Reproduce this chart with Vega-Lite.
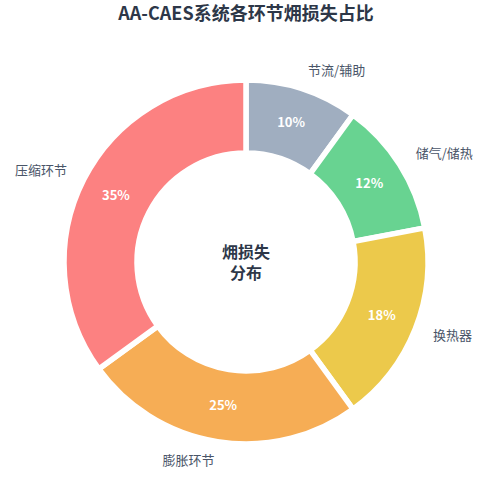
{
  "$schema": "https://vega.github.io/schema/vega-lite/v6.json",
  "width": 490,
  "height": 494,
  "autosize": {"type": "fit", "contains": "padding"},
  "padding": {"top": 6, "left": 2, "right": 0, "bottom": 0},
  "background": "white",
  "title": {
    "text": "AA-CAES系统各环节㶲损失占比",
    "font": "Noto Sans CJK SC",
    "fontSize": 18,
    "fontWeight": "bold",
    "color": "#2D3748",
    "offset": 6
  },
  "data": {
    "values": [
      {"name": "节流/辅助", "value": 10, "label": "10%", "ord": 1},
      {"name": "储气/储热", "value": 12, "label": "12%", "ord": 2},
      {"name": "换热器", "value": 18, "label": "18%", "ord": 3},
      {"name": "膨胀环节", "value": 25, "label": "25%", "ord": 4},
      {"name": "压缩环节", "value": 35, "label": "35%", "ord": 5}
    ]
  },
  "encoding": {
    "theta": {"field": "value", "type": "quantitative", "stack": true},
    "order": {"field": "ord", "type": "quantitative"}
  },
  "layer": [
    {
      "mark": {"type": "arc", "outerRadius": 182, "innerRadius": 109, "stroke": "white", "strokeWidth": 5.5},
      "encoding": {
        "color": {
          "field": "name",
          "type": "nominal",
          "legend": null,
          "scale": {
            "domain": ["节流/辅助", "储气/储热", "换热器", "膨胀环节", "压缩环节"],
            "range": ["#A0AEC0", "#68D391", "#ECC94B", "#F6AD55", "#FC8181"]
          }
        }
      }
    },
    {
      "mark": {"type": "text", "radius": 146, "font": "Noto Sans CJK SC", "fontSize": 13, "fontWeight": "bold", "fill": "white"},
      "encoding": {"text": {"field": "label"}}
    },
    {
      "mark": {"type": "text", "radius": 201, "font": "Noto Sans CJK SC", "fontSize": 13, "fill": "#4A5568", "baseline": "middle", "align": {"expr": "datum.ord <= 3 ? 'left' : 'right'"}},
      "encoding": {"text": {"field": "name"}}
    },
    {
      "data": {"values": [{"t": ["㶲损失", "分布"]}]},
      "mark": {"type": "text", "font": "Noto Sans CJK SC", "fontSize": 16, "fontWeight": "bold", "fill": "#2D3748", "lineHeight": 21, "baseline": "middle", "dy": -9},
      "encoding": {"text": {"field": "t"}, "theta": null, "order": null}
    }
  ]
}
